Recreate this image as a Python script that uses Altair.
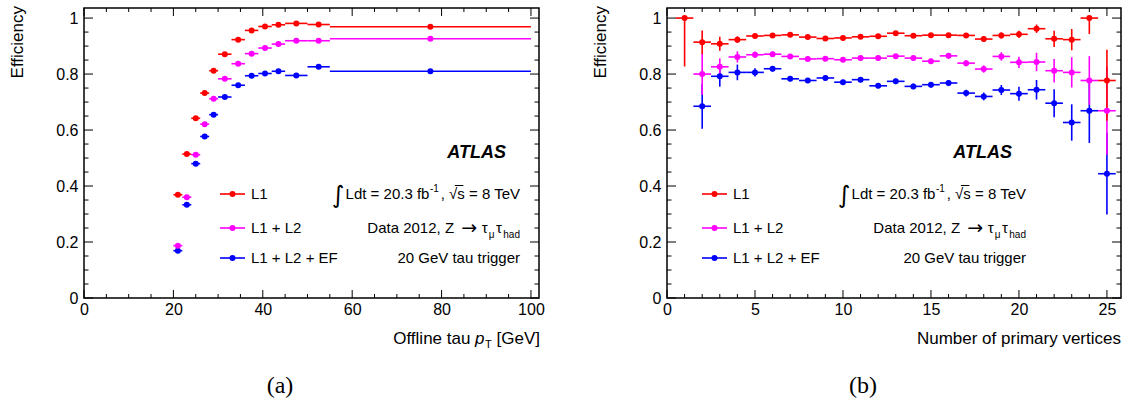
import altair as alt
import pandas as pd

series_names = ["L1", "L1 + L2", "L1 + L2 + EF"]
series_colors = ["#ff0000", "#ff00ff", "#0000ff"]

# (a) efficiency versus offline tau pT, bin edges in GeV
pt_low = [20, 22, 24, 26, 28, 30, 33, 36, 39, 42, 45, 50, 55]
pt_high = [22, 24, 26, 28, 30, 33, 36, 39, 42, 45, 50, 55, 100]
pt_eff_l1 = [0.369, 0.514, 0.642, 0.732, 0.812, 0.871, 0.923, 0.956, 0.970, 0.976, 0.981, 0.977, 0.969]
pt_eff_l2 = [0.187, 0.360, 0.512, 0.621, 0.712, 0.783, 0.837, 0.873, 0.893, 0.907, 0.919, 0.919, 0.926]
pt_eff_ef = [0.169, 0.333, 0.480, 0.577, 0.655, 0.718, 0.760, 0.794, 0.802, 0.810, 0.795, 0.826, 0.810]

# (b) efficiency versus number of primary vertices
nvtx_l1 = list(range(1, 26))
nvtx_eff_l1 = [1.000, 0.914, 0.908, 0.923, 0.936, 0.938, 0.940, 0.932, 0.927, 0.929,
               0.933, 0.935, 0.946, 0.937, 0.939, 0.939, 0.938, 0.925, 0.938, 0.942,
               0.962, 0.926, 0.923, 1.000, 0.777]
nvtx_dn_l1 = [0.173, 0.042, 0.025, 0.012, 0.008, 0.007, 0.006, 0.006, 0.006, 0.006,
              0.006, 0.006, 0.006, 0.007, 0.007, 0.008, 0.008, 0.010, 0.011, 0.013,
              0.015, 0.029, 0.038, 0.057, 0.144]
nvtx_up_l1 = [0.000, 0.042, 0.025, 0.012, 0.008, 0.007, 0.006, 0.006, 0.006, 0.006,
              0.006, 0.006, 0.006, 0.007, 0.007, 0.008, 0.008, 0.010, 0.011, 0.013,
              0.015, 0.029, 0.038, 0.000, 0.110]
nvtx_l2 = list(range(2, 26))
nvtx_eff_l2 = [0.800, 0.826, 0.861, 0.869, 0.871, 0.863, 0.854, 0.855, 0.851, 0.857,
               0.857, 0.864, 0.857, 0.846, 0.865, 0.839, 0.818, 0.863, 0.842, 0.843,
               0.812, 0.806, 0.777, 0.669]
nvtx_err_l2 = [0.075, 0.030, 0.020, 0.012, 0.010, 0.008, 0.008, 0.008, 0.008, 0.008,
               0.008, 0.008, 0.009, 0.009, 0.010, 0.011, 0.013, 0.015, 0.020, 0.033,
               0.042, 0.054, 0.087, 0.157]
nvtx_ef = list(range(2, 26))
nvtx_eff_ef = [0.685, 0.792, 0.806, 0.806, 0.819, 0.783, 0.777, 0.786, 0.771, 0.780,
               0.758, 0.774, 0.756, 0.762, 0.768, 0.732, 0.720, 0.743, 0.730, 0.744,
               0.696, 0.627, 0.669, 0.444]
nvtx_err_ef = [0.080, 0.037, 0.028, 0.015, 0.010, 0.009, 0.009, 0.009, 0.009, 0.009,
               0.009, 0.010, 0.010, 0.010, 0.011, 0.012, 0.014, 0.018, 0.025, 0.035,
               0.050, 0.065, 0.115, 0.146]

# axis ticks
y_major = [0, 0.2, 0.4, 0.6, 0.8, 1.0]
y_minor = [round(0.05 * i, 2) for i in range(21) if i % 4]
pt_major = [0, 20, 40, 60, 80, 100]
pt_minor = [5 * i for i in range(21) if i % 4]
nv_major = [0, 5, 10, 15, 20, 25]
nv_minor = [i for i in range(26) if i % 5]

FONT = "Liberation Sans"
H = 290
W_A, W_B = 455, 454
Y_DOM = [0, 1.036]
ERR_W = 1.6

# Arial / Liberation Sans advance widths (per 1000 em) for right-to-left text assembly
ADV = {" ": 278, ",": 278, "-": 333, ".": 278, "=": 584, "+": 584, "[": 278, "]": 278,
       "A": 667, "D": 722, "E": 667, "F": 611, "G": 778, "L": 556, "O": 778, "T": 611,
       "V": 667, "Z": 611, "a": 556, "b": 556, "d": 556, "e": 556, "f": 278, "g": 556,
       "h": 556, "i": 222, "l": 222, "n": 556, "p": 556, "r": 333, "s": 500, "t": 278,
       "u": 556, "y": 500, "τ": 450, "μ": 577, "√": 549, "→": 1000}


def text_width(s, size):
    return sum(ADV.get(c, 556) for c in s) * size / 1000.0


one = pd.DataFrame({"k": [0]})


def txt(text, x, y, size=15, align="left", baseline="middle", font=FONT,
        style="normal", weight="normal", angle=0):
    return alt.Chart(one).mark_text(
        text=text, align=align, baseline=baseline, font=font, fontSize=size,
        fontStyle=style, fontWeight=weight, angle=angle, color="black",
    ).encode(x=alt.value(x), y=alt.value(y))


def build_frame(rows):
    return pd.DataFrame(rows, columns=["trig", "x", "xlo", "xhi", "eff", "elo", "ehi"])


# drawing order: EF first, L1 last (on top)
rows_a = []
for name, effs in [(series_names[2], pt_eff_ef), (series_names[1], pt_eff_l2), (series_names[0], pt_eff_l1)]:
    for lo, hi, e in zip(pt_low, pt_high, effs):
        rows_a.append((name, (lo + hi) / 2, lo, hi, e, e, e))
df_a = build_frame(rows_a)

rows_b = []
for n, e, er in zip(nvtx_ef, nvtx_eff_ef, nvtx_err_ef):
    rows_b.append((series_names[2], n, n - 0.5, n + 0.5, e, e - er, e + er))
for n, e, er in zip(nvtx_l2, nvtx_eff_l2, nvtx_err_l2):
    rows_b.append((series_names[1], n, n - 0.5, n + 0.5, e, e - er, e + er))
for n, e, dn, up in zip(nvtx_l1, nvtx_eff_l1, nvtx_dn_l1, nvtx_up_l1):
    rows_b.append((series_names[0], n, n - 0.5, n + 0.5, e, e - dn, e + up))
df_b = build_frame(rows_b)


def legend(x0):
    layers = []
    for i, (name, col) in enumerate(zip(series_names, series_colors)):
        y = [186, 220, 250][i]
        layers.append(alt.Chart(one).mark_rule(color=col, strokeWidth=ERR_W).encode(
            x=alt.value(x0), x2=alt.value(x0 + 25), y=alt.value(y)))
        layers.append(alt.Chart(one).mark_circle(color=col, size=36, opacity=1).encode(
            x=alt.value(x0 + 12.5), y=alt.value(y)))
        layers.append(txt(name, x0 + 31, y))
    return layers


def annotations(R):
    layers = [txt("ATLAS", R - 14, 145, size=18, align="right", style="italic", weight="bold")]
    # luminosity line, assembled from the right
    x = R
    s3 = ", √s = 8 TeV"
    layers.append(txt(s3, x, 186, align="right"))
    # bar over the s of the square root
    s_right = x - text_width(" = 8 TeV", 15)
    s_left = x - text_width("s = 8 TeV", 15)
    layers.append(alt.Chart(one).mark_rule(color="black", strokeWidth=1).encode(
        x=alt.value(s_left - 0.5), x2=alt.value(s_right + 0.5), y=alt.value(177.5)))
    x -= text_width(s3, 15)
    layers.append(txt("-1", x, 181, size=10, align="right"))
    x -= text_width("-1", 10) + 0.5
    s1 = "Ldt = 20.3 fb"
    layers.append(txt(s1, x, 186, align="right"))
    x -= text_width(s1, 15) + 1
    layers.append(txt("∫", x, 188, size=24, align="right", font="DejaVu Sans"))
    # data sample line
    x = R
    layers.append(txt("had", x, 227, size=10, align="right"))
    x -= text_width("had", 10) + 1.5
    layers.append(txt("τ", x, 220, align="right"))
    x -= text_width("τ", 15) + 0.5
    layers.append(txt("μ", x, 227, size=10, align="right"))
    x -= text_width("μ", 10) + 1
    layers.append(txt("τ", x, 220, align="right"))
    x -= text_width("τ", 15) + 4
    layers.append(txt("→", x, 220, size=19, align="right", font="DejaVu Sans"))
    x -= 16 + 7
    layers.append(txt("Data 2012, Z", x, 220, align="right"))
    layers.append(txt("20 GeV tau trigger", R, 250, align="right"))
    return layers


def panel(df, xdom, width, xmajor, xminor, legend_x, ann_r, xtitle, caption, vbars):
    xs = alt.Scale(domain=xdom, nice=False, zero=False)
    ys = alt.Scale(domain=Y_DOM, nice=False, zero=False)
    ax_x = alt.Axis(values=xmajor, format="d", title=None)
    ax_y = alt.Axis(values=y_major, format="~g", title=None)
    color = alt.Color("trig:N", scale=alt.Scale(domain=series_names, range=series_colors), legend=None)
    base = alt.Chart(df)
    layers = []
    # frame ticks pointing inward on all four sides
    for vals, ln in [(y_major, 9), (y_minor, 4.5)]:
        d = pd.DataFrame({"v": vals})
        layers.append(alt.Chart(d).mark_rule(color="black", strokeWidth=1).encode(
            y=alt.Y("v:Q", scale=ys, axis=ax_y), x=alt.value(0), x2=alt.value(ln)))
        layers.append(alt.Chart(d).mark_rule(color="black", strokeWidth=1).encode(
            y=alt.Y("v:Q", scale=ys, axis=ax_y), x=alt.value(width), x2=alt.value(width - ln)))
    for vals, ln in [(xmajor, 8), (xminor, 4)]:
        d = pd.DataFrame({"v": vals})
        layers.append(alt.Chart(d).mark_rule(color="black", strokeWidth=1).encode(
            x=alt.X("v:Q", scale=xs, axis=ax_x), y=alt.value(H), y2=alt.value(H - ln)))
        layers.append(alt.Chart(d).mark_rule(color="black", strokeWidth=1).encode(
            x=alt.X("v:Q", scale=xs, axis=ax_x), y=alt.value(0), y2=alt.value(ln)))
    # horizontal bin-width bars
    layers.append(base.mark_rule(strokeWidth=ERR_W).encode(
        x=alt.X("xlo:Q", scale=xs, axis=ax_x), x2="xhi:Q",
        y=alt.Y("eff:Q", scale=ys, axis=ax_y), color=color))
    if vbars:
        layers.append(base.mark_rule(strokeWidth=ERR_W).encode(
            x=alt.X("x:Q", scale=xs, axis=ax_x),
            y=alt.Y("elo:Q", scale=ys, axis=ax_y), y2="ehi:Q", color=color))
    layers.append(base.mark_circle(size=36, opacity=1).encode(
        x=alt.X("x:Q", scale=xs, axis=ax_x),
        y=alt.Y("eff:Q", scale=ys, axis=ax_y), color=color))
    layers += legend(legend_x)
    layers += annotations(ann_r)
    layers.append(txt("Efficiency", -66, -2, size=17, align="right", angle=270))
    layers += xtitle
    layers.append(txt(caption, 196, 378, size=24, align="center", font="Liberation Serif"))
    return alt.layer(*layers).properties(width=width, height=H)


def pt_title(R, y):
    x = R
    L = [txt("[GeV]", x, y, size=17, align="right")]
    x -= text_width("[GeV]", 17) + text_width(" ", 17)
    L.append(txt("T", x, y + 6, size=11, align="right"))
    x -= text_width("T", 11) + 0.5
    L.append(txt("p", x, y, size=17, align="right", style="italic"))
    x -= text_width("p", 17) + text_width(" ", 17)
    L.append(txt("Offline tau", x, y, size=17, align="right"))
    return L


panel_a = panel(df_a, [0, 101.8], W_A, pt_major, pt_minor, 136, 436,
                pt_title(456, 331), "(a)", False)
panel_b = panel(df_b, [0, 25.8], W_B, nv_major, nv_minor, 35, 359,
                [txt("Number of primary vertices", W_B, 331, size=17, align="right")], "(b)", True)

chart = alt.HConcatChart(hconcat=[panel_a, panel_b], spacing=128, bounds="flush").properties(
    padding={"left": 8, "top": 5, "right": 0, "bottom": 0}
).configure_view(
    stroke="black", strokeWidth=1.5
).configure_axis(
    domain=False, ticks=False, grid=False, labelFont=FONT, labelFontSize=16,
    labelColor="black", labelFlush=False, labelOverlap=False,
).configure_axisX(labelPadding=3).configure_axisY(labelPadding=6)

chart.save("out.html", embed_options={"renderer": "svg", "actions": False})
